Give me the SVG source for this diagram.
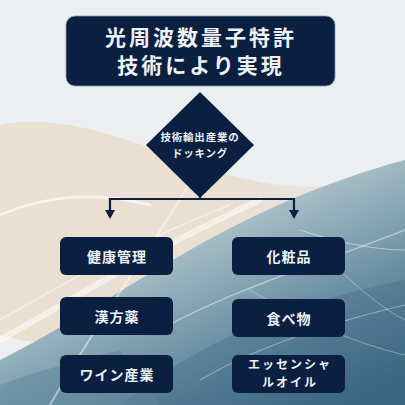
<svg xmlns="http://www.w3.org/2000/svg" width="405" height="405" viewBox="0 0 405 405">
<defs>
<linearGradient id="teal" x1="0.15" y1="0.05" x2="0.85" y2="1">
<stop offset="0" stop-color="#d3d9da" stop-opacity="0"/>
<stop offset="0.22" stop-color="#c6d2d5"/>
<stop offset="0.5" stop-color="#8aa9b7"/>
<stop offset="0.8" stop-color="#567f96"/>
<stop offset="1" stop-color="#3c657e"/>
</linearGradient>
<linearGradient id="beige" x1="0" y1="0" x2="1" y2="0.3">
<stop offset="0" stop-color="#ebe0d2"/>
<stop offset="0.6" stop-color="#e9dfd2"/>
<stop offset="1" stop-color="#e6e3de" stop-opacity="0.6"/>
</linearGradient>
<style>
.box{fill:#0b1f40;}
.t{font-family:"Noto Sans CJK JP","Noto Sans",sans-serif;font-weight:bold;fill:#eef2f4;text-anchor:middle;}
.title{font-size:21px;letter-spacing:3px;}
.dia{font-size:10.5px;letter-spacing:0.8px;}
.lbl{font-size:14px;letter-spacing:1px;}
.lbl2{font-size:12px;letter-spacing:2px;}
.streak{fill:none;stroke:#ffffff;stroke-linecap:round;}
.conn{fill:none;stroke:#0b1f40;stroke-width:2.2;}
.head{fill:#0b1f40;}
</style>
</defs>
<g id="background">
<rect x="0" y="0" width="405" height="405" fill="#eceff1"/>
<path d="M0 125 C70 110 150 150 230 175 C300 195 350 185 405 175 L405 260 C300 270 200 300 120 330 C70 345 30 345 0 335 Z" fill="url(#beige)"/>
<path d="M0 405 L0 360 C60 330 120 290 190 250 C260 210 330 180 405 160 L405 405 Z" fill="url(#teal)"/>
<path d="M120 405 C200 340 300 300 405 280 L405 405 Z" fill="#3f6a83" opacity="0.35"/>
<path d="M0 405 L0 385 C40 370 80 360 120 350 L160 405 Z" fill="#5e8599" opacity="0.5"/>
<path class="streak" d="M0 215 C60 190 110 195 150 205" stroke-width="3" opacity="0.6"/>
<path class="streak" d="M50 405 C110 300 165 230 200 165" stroke-width="2" opacity="0.45"/>
<path class="streak" d="M0 340 C80 295 150 250 260 200" stroke-width="6" opacity="0.5"/>
<path class="streak" d="M0 320 C70 280 140 240 230 205" stroke-width="2" opacity="0.4"/>
<path class="streak" d="M160 330 C230 290 330 260 405 230" stroke-width="1.5" opacity="0.45"/>
<path class="streak" d="M200 380 C260 345 340 320 405 305" stroke-width="1" opacity="0.4"/>
<path class="streak" d="M250 290 C300 320 360 345 405 355" stroke-width="1" opacity="0.35"/>
<path class="streak" d="M300 230 C330 240 370 250 405 250" stroke-width="1" opacity="0.45"/>
<path class="streak" d="M340 270 C360 290 385 310 405 320" stroke-width="1" opacity="0.35"/>
</g>
<g id="connectors">
<path class="conn" d="M200 197 L200 199 M109 199 L295 199 M110 198 L110 211 M294 198 L294 211"/>
<path class="head" d="M105 210 L115 210 L110 219 Z"/>
<path class="head" d="M289 210 L299 210 L294 219 Z"/>
</g>
<g id="title">
<rect class="box" x="66" y="16" width="269" height="70" rx="9" stroke="#7fa0b0" stroke-width="0.8"/>
<text class="t title" x="201" y="45">光周波数量子特許</text>
<text class="t title" x="201" y="73">技術により実現</text>
</g>
<g id="diamond">
<path class="box" d="M200 92 L254 145 L200 198 L146 145 Z"/>
<text class="t dia" x="200" y="141">技術輸出産業の</text>
<text class="t dia" x="200" y="157">ドッキング</text>
</g>
<g id="n-kenko">
<rect class="box" x="60" y="237" width="113" height="38" rx="6"/>
<text class="t lbl" x="117" y="262">健康管理</text>
</g>
<g id="n-kampo">
<rect class="box" x="60" y="297" width="113" height="38" rx="6"/>
<text class="t lbl" x="117" y="322">漢方薬</text>
</g>
<g id="n-wine">
<rect class="box" x="60" y="355" width="113" height="38" rx="6"/>
<text class="t lbl" x="117" y="380">ワイン産業</text>
</g>
<g id="n-keshohin">
<rect class="box" x="232" y="237" width="113" height="38" rx="6"/>
<text class="t lbl" x="289" y="262">化粧品</text>
</g>
<g id="n-tabemono">
<rect class="box" x="232" y="299" width="113" height="38" rx="6"/>
<text class="t lbl" x="289" y="324">食べ物</text>
</g>
<g id="n-oil">
<rect class="box" x="232" y="355" width="113" height="38" rx="6"/>
<text class="t lbl2" x="290" y="369">エッセンシャ</text>
<text class="t lbl2" x="290" y="387">ルオイル</text>
</g>
</svg>
